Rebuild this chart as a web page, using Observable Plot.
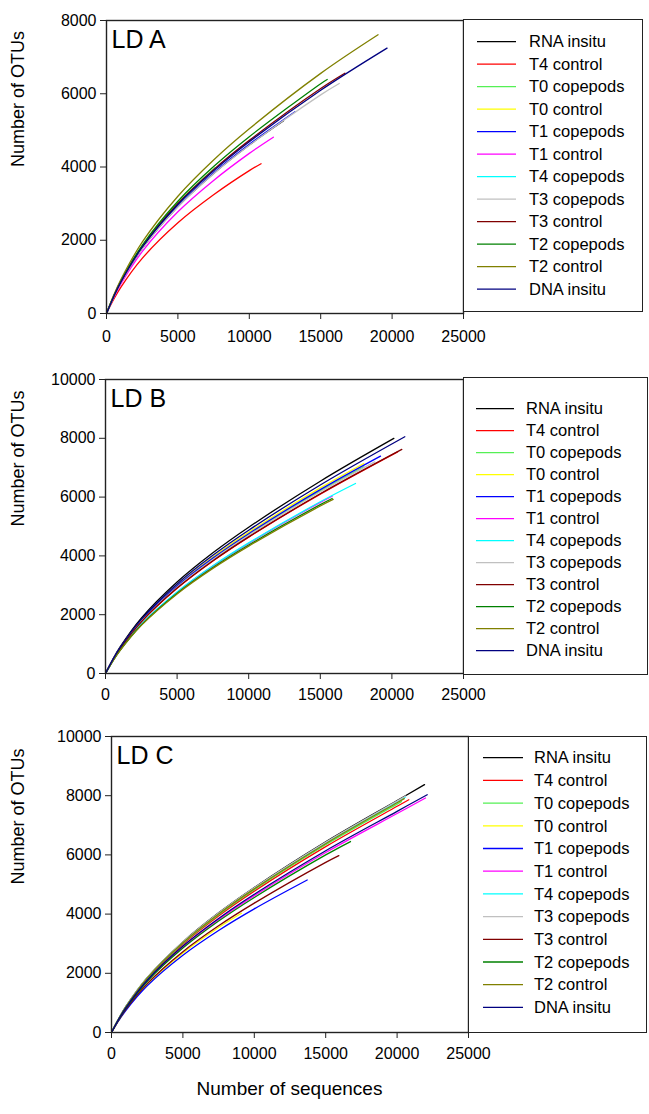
<!DOCTYPE html>
<html><head><meta charset="utf-8">
<script src="https://cdn.jsdelivr.net/npm/d3@7"></script>
<script src="https://cdn.jsdelivr.net/npm/@observablehq/plot@0.6"></script>
<style>
body{margin:0;background:#fff;}
#root{position:relative;width:649px;height:1114px;font-family:"Liberation Sans",Arial,sans-serif;color:#000;overflow:hidden;}
.panel{position:absolute;left:0;}
.legend{position:absolute;border:1.3px solid #222;box-sizing:border-box;background:#fff;}
.legend svg{position:absolute;left:0;top:0;overflow:visible;}
.xtitle{position:absolute;left:0;width:579px;text-align:center;font-size:19px;}
</style></head><body><div id="root"></div><script>
// Series (legend order) and colours
const seriesNames = ["RNA insitu","T4 control","T0 copepods","T0 control","T1 copepods","T1 control","T4 copepods","T3 copepods","T3 control","T2 copepods","T2 control","DNA insitu"];
const seriesColors = ["#000000","#ff0000","#55f055","#ffff00","#0000ff","#ff00ff","#00ffff","#c0c0c0","#800000","#008000","#808000","#000080"];
const xTicks = [0,5000,10000,15000,20000,25000];
const yTicksA = [0,2000,4000,6000,8000];
const yTicksBC = [0,2000,4000,6000,8000,10000];
const panelLabels = ["LD A","LD B","LD C"];

// LD A: [number of sequences, number of OTUs]
const A_rna   = [[0,0],[500,451],[1000,842],[2500,1776],[5000,2921],[7500,3823],[10000,4600],[12400,5262]];
const A_t4c   = [[0,0],[500,382],[1000,714],[2500,1505],[5000,2477],[7500,3241],[10000,3900],[10824,4090]];
const A_t0cop = [[0,0],[500,466],[1000,869],[2500,1834],[5000,3016],[7500,3947],[7600,3980]];
const A_t0c   = [[0,0],[500,464],[1000,866],[2500,1826],[5000,3004],[6500,3560]];
const A_t1cop = [[0,0],[500,453],[1000,845],[2500,1783],[5000,2934],[7500,3839],[10000,4620],[13200,5507]];
const A_t1c   = [[0,0],[500,428],[1000,800],[2500,1688],[5000,2776],[7500,3633],[10000,4372],[11683,4814]];
const A_t4cop = [[0,0],[500,461],[1000,860],[2500,1814],[5000,2985],[5800,3280]];
const A_t3cop = [[0,0],[500,450],[1000,840],[2500,1773],[5000,2916],[7500,3816],[10000,4592],[15000,5970],[16300,6280]];
const A_t3c   = [[0,0],[500,463],[1000,865],[2500,1825],[5000,3002],[7500,3928],[10000,4727],[15000,6145],[16690,6561]];
const A_t2cop = [[0,0],[500,473],[1000,883],[2500,1863],[5000,3065],[7500,4011],[10000,4827],[15000,6275],[15455,6389]];
const A_t2c   = [[0,0],[500,495],[1000,923],[2500,1947],[5000,3202],[7500,4191],[10000,5043],[15000,6556],[19016,7610]];
const A_dna   = [[0,0],[500,460],[1000,858],[2500,1810],[5000,2978],[7500,3897],[10000,4690],[15000,6097],[19645,7247]];

// LD B
const B_rna   = [[0,0],[500,473],[1000,885],[2500,1880],[5000,3109],[7500,4104],[10000,4974],[15000,6541],[20134,7996]];
const B_t4c   = [[0,0],[500,441],[1000,826],[2500,1754],[5000,2900],[7500,3828],[10000,4640],[15000,6102],[20400,7540]];
const B_t0cop = [[0,0],[500,449],[1000,841],[2500,1785],[5000,2952],[7500,3896],[10000,4723],[15000,6211],[18040,7029]];
const B_t0c   = [[0,0],[500,456],[1000,854],[2500,1814],[5000,3000],[7500,3960],[10000,4800],[15000,6312],[18040,7144]];
const B_t1cop = [[0,0],[500,452],[1000,847],[2500,1798],[5000,2973],[7500,3924],[10000,4756],[15000,6254],[19204,7393]];
const B_t1c   = [[0,0],[500,420],[1000,788],[2500,1673],[5000,2766],[7500,3651],[10000,4426],[15000,5820],[15830,6030]];
const B_t4cop = [[0,0],[500,422],[1000,791],[2500,1679],[5000,2776],[7500,3665],[10000,4442],[15000,5841],[17458,6463]];
const B_t3cop = [[0,0],[500,447],[1000,837],[2500,1777],[5000,2938],[7500,3878],[10000,4701],[15000,6182],[18800,7200]];
const B_t3c   = [[0,0],[500,442],[1000,827],[2500,1757],[5000,2905],[7500,3835],[10000,4648],[15000,6112],[20693,7621]];
const B_t2cop = [[0,0],[500,415],[1000,778],[2500,1651],[5000,2731],[7500,3604],[10000,4369],[15000,5745],[15830,5952]];
const B_t2c   = [[0,0],[500,412],[1000,771],[2500,1638],[5000,2708],[7500,3575],[10000,4333],[15000,5698],[15900,5920]];
const B_dna   = [[0,0],[500,463],[1000,868],[2500,1843],[5000,3047],[7500,4022],[10000,4875],[15000,6411],[20902,8051]];

// LD C
const C_rna   = [[0,0],[500,465],[1000,872],[2500,1851],[5000,3061],[7500,4041],[10000,4898],[15000,6441],[20000,7837],[21919,8373]];
const C_t4c   = [[0,0],[500,454],[1000,850],[2500,1805],[5000,2985],[7500,3940],[10000,4776],[15000,6280],[20000,7642],[20820,7865]];
const C_t0cop = [[0,0],[500,458],[1000,858],[2500,1823],[5000,3014],[7500,3979],[10000,4823],[15000,6342],[20000,7717],[20300,7800]];
const C_t0c   = [[0,0],[500,409],[1000,766],[2500,1626],[5000,2688],[7500,3548],[9100,4030]];
const C_t1cop = [[0,0],[500,397],[1000,744],[2500,1579],[5000,2611],[7500,3447],[10000,4178],[13705,5153]];
const C_t1c   = [[0,0],[500,439],[1000,823],[2500,1748],[5000,2890],[7500,3815],[10000,4624],[15000,6081],[20000,7398],[21989,7922]];
const C_t4cop = [[0,0],[500,463],[1000,867],[2500,1841],[5000,3044],[7500,4018],[10000,4870],[15000,6404],[20000,7792],[20589,7955]];
const C_t3cop = [[0,0],[500,464],[1000,870],[2500,1848],[5000,3056],[7500,4033],[10000,4889],[15000,6429],[20000,7822],[20600,7990]];
const C_t3c   = [[0,0],[500,415],[1000,778],[2500,1652],[5000,2732],[7500,3606],[10000,4371],[15000,5748],[15918,5977]];
const C_t2cop = [[0,0],[500,433],[1000,812],[2500,1724],[5000,2851],[7500,3764],[10000,4562],[15000,5999],[16737,6451]];
const C_t2c   = [[0,0],[500,461],[1000,863],[2500,1834],[5000,3032],[7500,4002],[10000,4851],[15000,6379],[20000,7762],[20500,7900]];
const C_dna   = [[0,0],[500,444],[1000,831],[2500,1765],[5000,2919],[7500,3853],[10000,4670],[15000,6141],[20000,7472],[22108,8034]];

const panelSeries = [
  [A_rna,A_t4c,A_t0cop,A_t0c,A_t1cop,A_t1c,A_t4cop,A_t3cop,A_t3c,A_t2cop,A_t2c,A_dna],
  [B_rna,B_t4c,B_t0cop,B_t0c,B_t1cop,B_t1c,B_t4cop,B_t3cop,B_t3c,B_t2cop,B_t2c,B_dna],
  [C_rna,C_t4c,C_t0cop,C_t0c,C_t1cop,C_t1c,C_t4cop,C_t3cop,C_t3c,C_t2cop,C_t2c,C_dna]
];

// layout (pixels)
const layouts = [
  {top:0,   mt:20, innerH:293, ml:106, right:463, ymax:8000,  yTicks:yTicksA, pad:11,
   leg:{left:463, top:19,  w:180, h:293, row0:23, step:22.5, l0:13, l1:52, tx:65}},
  {top:359, mt:20, innerH:294, ml:105, right:463, ymax:10000, yTicks:yTicksBC, pad:9,
   leg:{left:463, top:377, w:185, h:298, row0:32, step:22, l0:12, l1:50, tx:62}},
  {top:716, mt:20, innerH:296, ml:111, right:468, ymax:10000, yTicks:yTicksBC, pad:9,
   leg:{left:468, top:736, w:179, h:297, row0:22, step:22.7, l0:14, l1:54, tx:65}}
];

const root = document.getElementById("root");
const font = "Liberation Sans, Arial, sans-serif";

layouts.forEach((L, p) => {
  const rows = [];
  panelSeries[p].forEach((pts, i) => pts.forEach(([x, y]) => rows.push({s: seriesNames[i], x, y})));
  const mb = 48;
  const plot = Plot.plot({
    width: L.right + 8, height: L.mt + L.innerH + mb,
    marginLeft: L.ml, marginRight: 8, marginTop: L.mt, marginBottom: mb,
    style: {fontFamily: font, background: "transparent", color: "#000", overflow: "visible"},
    x: {domain: [0, 25000]},
    y: {domain: [0, L.ymax]},
    color: {domain: seriesNames, range: seriesColors},
    marks: [
      Plot.line(rows, {x: "x", y: "y", z: "s", stroke: "s", strokeWidth: 1.3, curve: "catmull-rom"}),
      Plot.frame({stroke: "#222", strokeWidth: 1.4}),
      Plot.axisX({ticks: xTicks, tickFormat: d => String(d), tickSize: 6, tickPadding: L.pad, fontSize: 16, label: null, stroke: "#222"}),
      Plot.axisY({ticks: L.yTicks, tickFormat: d => String(d), tickSize: 6, tickPadding: 4, fontSize: 16, label: null, stroke: "#222"}),
      Plot.text([panelLabels[p]], {frameAnchor: "top-left", dx: 5, dy: 10, text: d => d, fontSize: 25, textAnchor: "start", lineAnchor: "top"}),
      Plot.text(["Number of OTUs"], {frameAnchor: "left", dx: -(L.ml - 18), text: d => d, rotate: -90, fontSize: 18})
    ]
  });
  plot.classList.add("panel");
  plot.style.top = L.top + "px";
  root.appendChild(plot);

  // legend
  const g = L.leg;
  const div = document.createElement("div");
  div.className = "legend";
  Object.assign(div.style, {left: g.left + "px", top: g.top + "px", width: g.w + "px", height: g.h + "px"});
  const ns = "http://www.w3.org/2000/svg";
  const svg = document.createElementNS(ns, "svg");
  svg.setAttribute("width", g.w); svg.setAttribute("height", g.h);
  seriesNames.forEach((name, i) => {
    const y = g.row0 + i * g.step - 1.3;
    const ln = document.createElementNS(ns, "line");
    ln.setAttribute("x1", g.l0); ln.setAttribute("x2", g.l1);
    ln.setAttribute("y1", y); ln.setAttribute("y2", y);
    ln.setAttribute("stroke", seriesColors[i]); ln.setAttribute("stroke-width", 1.3);
    svg.appendChild(ln);
    const t = document.createElementNS(ns, "text");
    t.setAttribute("x", g.tx); t.setAttribute("y", y);
    t.setAttribute("dy", "0.35em");
    t.setAttribute("font-size", 16.5);
    t.setAttribute("font-family", font);
    t.textContent = name;
    svg.appendChild(t);
  });
  div.appendChild(svg);
  root.appendChild(div);
});

const xt = document.createElement("div");
xt.className = "xtitle";
xt.style.top = "1078px";
xt.textContent = "Number of sequences";
root.appendChild(xt);
</script></body></html>
